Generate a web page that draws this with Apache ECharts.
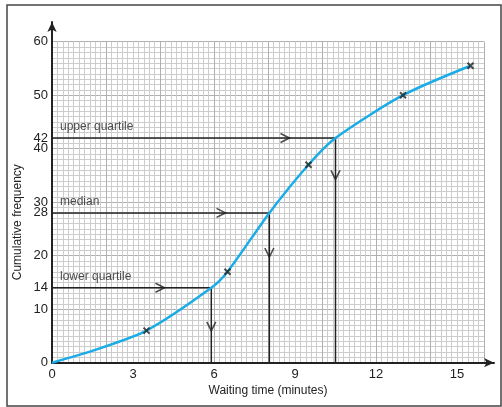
<!DOCTYPE html>
<html>
<head>
<meta charset="utf-8">
<script src="https://cdn.jsdelivr.net/npm/echarts@6/dist/echarts.min.js"></script>
<style>
  html, body { margin: 0; padding: 0; background: #fff; }
  #main { width: 502px; height: 407px; }
</style>
</head>
<body>
<div id="main"></div>
<script>
// values
const curvePoints = [[0, 0], [1.6, 2.4], [3.5, 6], [5.9, 14], [6.5, 17], [8.05, 28], [9.5, 37], [10.5, 42], [13, 50], [15.5, 55.5]];
const crossPoints = [[3.5, 6], [6.5, 17], [9.5, 37], [13, 50], [15.5, 55.5]];
const quartileNames = ["lower quartile", "median", "upper quartile"];
const quartileY = [14, 28, 42];
const quartileX = [5.9, 8.05, 10.5];
const rightArrowX = [4.0, 6.26, 8.63];
const downArrowY = [6.8, 20.6, 35.1];
const xTickLabels = [0, 3, 6, 9, 12, 15];
const yTickLabels = [0, 10, 14, 20, 28, 30, 40, 42, 50, 60];

const ink = "#222";
const font = "Liberation Sans";
const chevronRight = "path://M0,0L10,5L0,10";
const chevronDown = "path://M0,0L5,10L10,0";
const crossPath = "path://M0,0L10,10M10,0L0,10";

const chart = echarts.init(document.getElementById("main"));

const quartileSeries = quartileNames.map((name, i) => ({
  name: name,
  type: "line",
  xAxisIndex: 0,
  yAxisIndex: 0,
  symbol: "none",
  silent: true,
  lineStyle: { color: ink, width: 1.5 },
  data: [[0, quartileY[i]], [quartileX[i], quartileY[i]], [quartileX[i], 0]],
  z: 3
}));

const option = {
  animation: false,
  backgroundColor: "#fff",
  textStyle: { fontFamily: font },
  graphic: [{
    type: "rect",
    shape: { x: 7, y: 5, width: 494, height: 401 },
    style: { fill: "none", stroke: "#444", lineWidth: 1.5 },
    silent: true
  }],
  grid: [
    { left: 52, top: 41.7, right: 18, bottom: 44.3 },
    { left: 52, top: 22, right: 8, bottom: 44.3 }
  ],
  xAxis: [
    {
      gridIndex: 0, type: "value", position: "bottom", min: 0, max: 16, interval: 2,
      axisLine: { show: false }, axisTick: { show: false }, axisLabel: { show: false },
      splitLine: { show: true, lineStyle: { color: "#b0b0b0", width: 1 } },
      minorTick: { show: false, splitNumber: 10 },
      minorSplitLine: { show: true, lineStyle: { color: "#cdcdcd", width: 1 } },
      name: "Waiting time (minutes)", nameLocation: "middle", nameGap: 22,
      nameTextStyle: { color: ink, fontSize: 12, fontFamily: font }
    },
    {
      gridIndex: 0, type: "value", position: "bottom", min: 0, max: 16, interval: 1,
      axisLine: { show: false }, axisTick: { show: false }, splitLine: { show: false },
      axisLabel: {
        show: true, margin: 5, color: ink, fontSize: 13, fontFamily: font,
        formatter: v => (xTickLabels.includes(v) ? String(v) : "")
      }
    },
    {
      gridIndex: 1, type: "value", position: "bottom", min: 0, max: 1,
      axisLine: { show: true, symbol: ["none", "arrow"], symbolSize: [7, 10], lineStyle: { color: ink, width: 2 } },
      axisTick: { show: false }, axisLabel: { show: false }, splitLine: { show: false }
    }
  ],
  yAxis: [
    {
      gridIndex: 0, type: "value", position: "left", min: 0, max: 60, interval: 10,
      axisLine: { show: false }, axisTick: { show: false }, axisLabel: { show: false },
      splitLine: { show: true, lineStyle: { color: "#b0b0b0", width: 1 } },
      minorTick: { show: false, splitNumber: 10 },
      minorSplitLine: { show: true, lineStyle: { color: "#cdcdcd", width: 1 } },
      name: "Cumulative frequency", nameLocation: "middle", nameGap: 28, nameRotate: 90,
      nameTextStyle: { color: ink, fontSize: 12, fontFamily: font, padding: [0, 40, 0, 0] }
    },
    {
      gridIndex: 0, type: "value", position: "left", min: 0, max: 60, interval: 1,
      axisLine: { show: false }, axisTick: { show: false }, splitLine: { show: false },
      axisLabel: {
        show: true, margin: 4, color: ink, fontSize: 13, fontFamily: font, lineHeight: 13,
        formatter: v => (yTickLabels.includes(v) ? String(v) : "")
      }
    },
    {
      gridIndex: 1, type: "value", position: "left", min: 0, max: 1,
      axisLine: { show: true, symbol: ["none", "arrow"], symbolSize: [7, 10], lineStyle: { color: ink, width: 2 } },
      axisTick: { show: false }, axisLabel: { show: false }, splitLine: { show: false }
    }
  ],
  series: [
    {
      name: "curve",
      type: "line",
      xAxisIndex: 0, yAxisIndex: 0,
      smooth: 0.25,
      symbol: "none",
      lineStyle: { color: "#19ace6", width: 2.5 },
      data: curvePoints,
      z: 4
    },
    ...quartileSeries,
    {
      name: "right arrows",
      type: "scatter",
      xAxisIndex: 0, yAxisIndex: 0,
      symbol: chevronRight,
      symbolSize: [9, 9],
      itemStyle: { color: "none", borderColor: ink, borderWidth: 1.6 },
      data: rightArrowX.map((x, i) => [x, quartileY[i]]),
      z: 5
    },
    {
      name: "down arrows",
      type: "scatter",
      xAxisIndex: 0, yAxisIndex: 0,
      symbol: chevronDown,
      symbolSize: [9, 9],
      itemStyle: { color: "none", borderColor: ink, borderWidth: 1.6 },
      data: downArrowY.map((y, i) => [quartileX[i], y]),
      z: 5
    },
    {
      name: "crosses",
      type: "scatter",
      xAxisIndex: 0, yAxisIndex: 0,
      symbol: crossPath,
      symbolSize: 6,
      itemStyle: { color: "none", borderColor: ink, borderWidth: 2 },
      data: crossPoints,
      z: 6
    },
    {
      name: "labels",
      type: "scatter",
      xAxisIndex: 0, yAxisIndex: 0,
      symbolSize: 0,
      itemStyle: { color: "transparent" },
      label: {
        show: true,
        position: [8, -17],
        color: ink,
        fontSize: 12,
        fontFamily: font,
        formatter: p => p.data[2]
      },
      data: quartileNames.map((n, i) => [0, quartileY[i], n]),
      z: 6
    }
  ]
};

chart.setOption(option);
</script>
</body>
</html>
